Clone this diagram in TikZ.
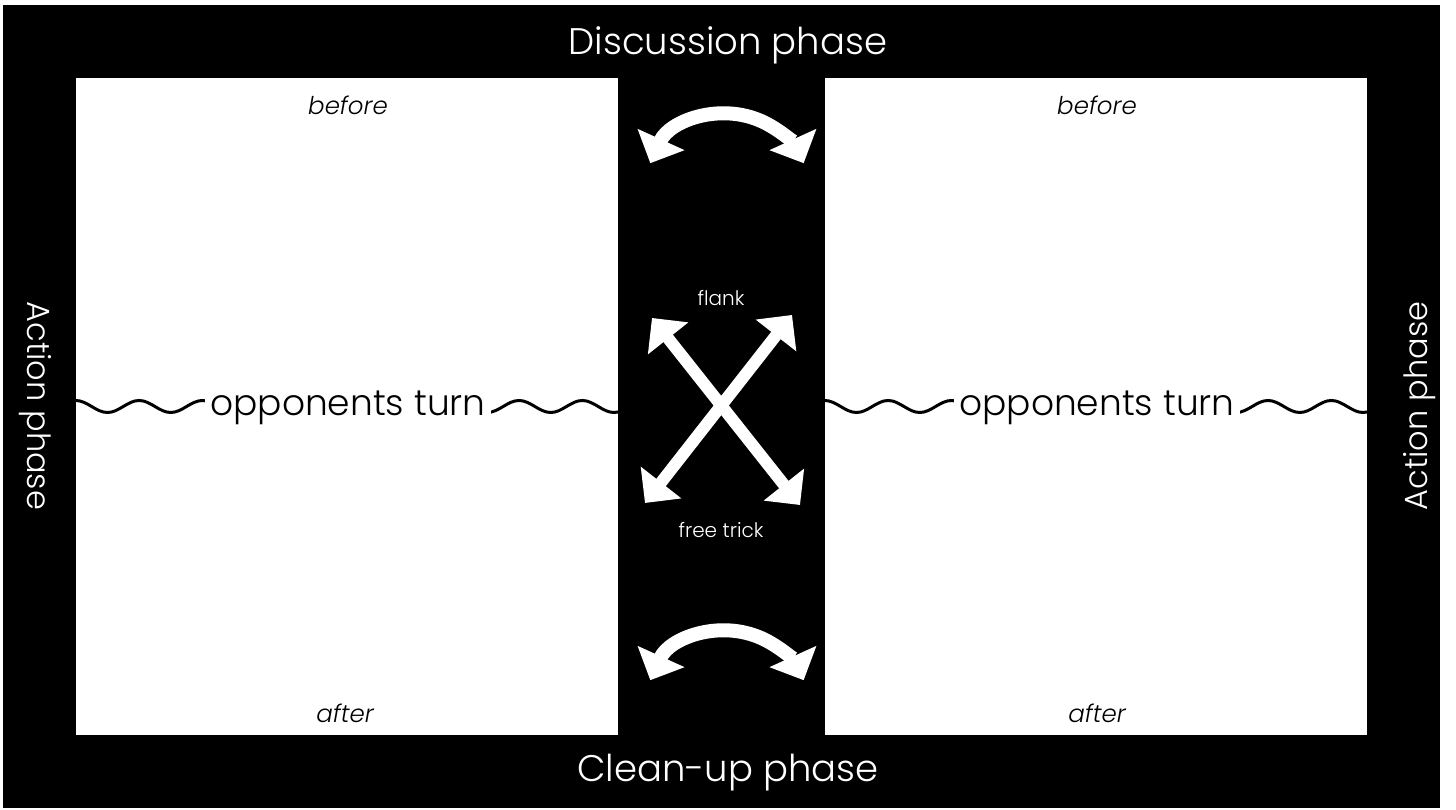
\documentclass[tikz,border=0pt]{standalone}
\usepackage{fontspec}
\setmainfont{Poppins Light}[ItalicFont={Poppins Light Italic}]
\usetikzlibrary{arrows.meta}

\tikzset{
  panel/.style={fill=white, draw=none, inner sep=0pt, minimum width=542pt, minimum height=657pt},
  phase/.style={text=white, inner sep=0pt, font=\fontsize{37}{44}\selectfont},
  sidephase/.style={text=white, inner sep=0pt, font=\fontsize{32}{38}\selectfont},
  moment/.style={text=black, inner sep=0pt, font=\itshape\fontsize{24.5}{29}\selectfont},
  turn/.style={fill=white, text=black, inner xsep=5pt, inner ysep=2pt, font=\fontsize{36}{43}\selectfont},
  small/.style={text=white, inner sep=0pt, font=\fontsize{20}{24}\selectfont},
  wave/.style={draw=black, line width=3pt},
  bigarrow/.style={draw=white, line width=14pt, {Triangle[width=50pt,length=26pt]}-{Triangle[width=50pt,length=26pt]}},
  xarrow/.style={draw=white, line width=12pt, {Triangle[width=50pt,length=26pt]}-{Triangle[width=50pt,length=26pt]}},
}

\begin{document}
\begin{tikzpicture}[x=1pt, y=1pt]
  % page and black board
  \path[fill=white] (0,0) rectangle (1456,810);
  \useasboundingbox (0,0) rectangle (1456,810);
  \path[fill=black] (3,2) rectangle (1440,805);

  % the two player panels
  \node[panel] (lp) at (347,403.5) {};
  \node[panel] (rp) at (1096,403.5) {};

  % wavy separator across each panel
  \foreach \p in {lp, rp} {
    \begin{scope}
      \clip (\p.south west) rectangle (\p.north east);
      \draw[wave] ([yshift=6pt]\p.west) \foreach \i in {1,...,9} {
        cos ++(15.83,-6) sin ++(15.83,-6) cos ++(15.83,6) sin ++(15.83,6)
      };
    \end{scope}
  }

  \node[turn] (lt) at (348,402) {opponents turn};
  \node[turn] (rt) at (1097,402) {opponents turn};

  % moment labels
  \node[moment] (lb) at (348,705) {before};
  \node[moment] (rb) at (1097,705) {before};
  \node[moment] (la) at (345,97) {after};
  \node[moment] (ra) at (1097,97) {after};

  % phase labels
  \node[phase] (disc) at (728,765) {Discussion phase};
  \node[phase] (clean) at (728,37) {Clean-up phase};
  \node[sidephase, rotate=-90] (actl) at (35,404) {Action phase};
  \node[sidephase, rotate=90] (actr) at (1420,404) {Action phase};

  % exchange arrows between the panels
  \coordinate (ts) at (650.3,646.8);
  \draw[bigarrow] (ts) arc[start angle=155.6, end angle=24.4, radius=84.2];
  \coordinate (bs) at (650.3,129.8);
  \draw[bigarrow] (bs) arc[start angle=155.6, end angle=24.4, radius=84.2];

  \coordinate (xtl) at (652,492);
  \coordinate (xbr) at (800,305);
  \coordinate (xtr) at (792,495);
  \coordinate (xbl) at (645,307);
  \draw[xarrow] (xtl) -- (xbr);
  \draw[xarrow] (xtr) -- (xbl);

  \node[small] (flank) at (721,512) {flank};
  \node[small] (free) at (721,280) {free trick};
\end{tikzpicture}
\end{document}
